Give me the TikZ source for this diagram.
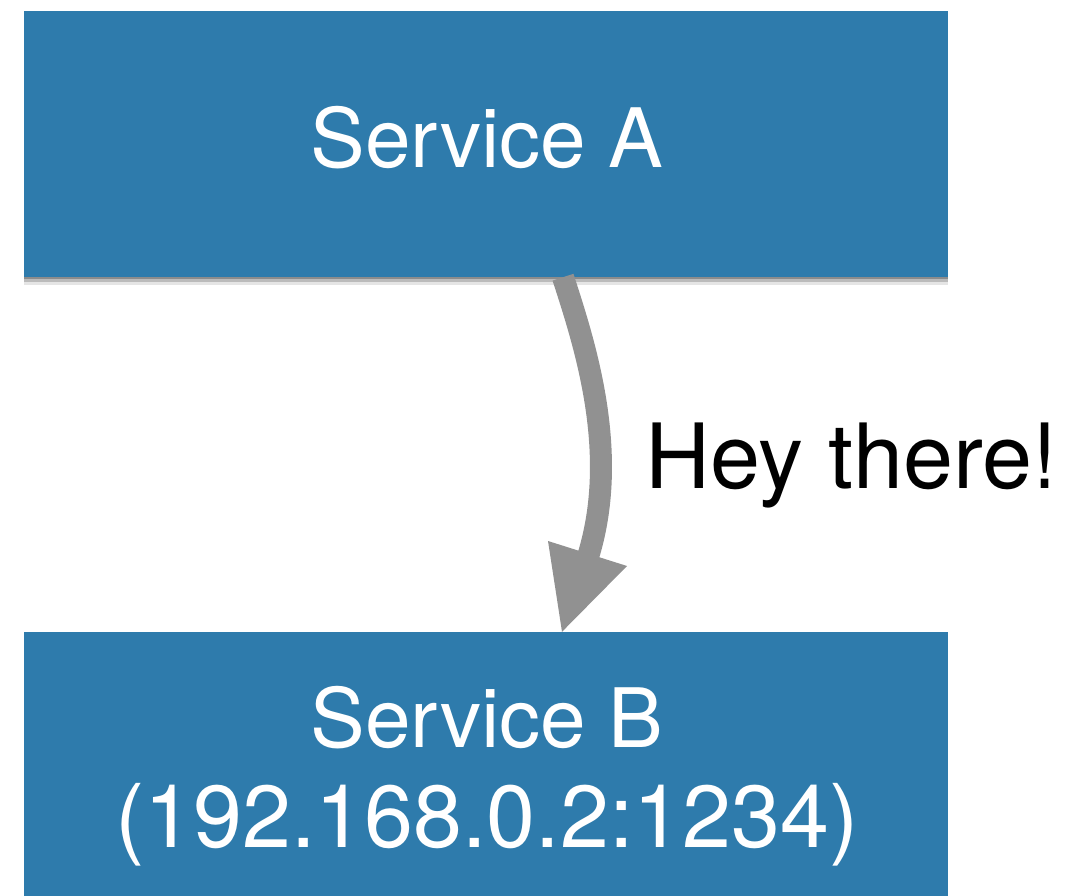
\documentclass[tikz,border=0pt]{standalone}
\usepackage{fontspec}
\setmainfont{TeX Gyre Heros}
\usetikzlibrary{shadows}
\definecolor{boxblue}{RGB}{46,123,172}
\definecolor{arrowgray}{RGB}{145,145,145}
\tikzset{
  service/.style={rectangle, fill=boxblue, draw=none, inner sep=0pt,
    minimum width=924pt,
    general shadow={shadow xshift=0pt, shadow yshift=-8pt, opacity=0.10, fill=black},
    general shadow={shadow xshift=0pt, shadow yshift=-5pt, opacity=0.18, fill=black},
    general shadow={shadow xshift=0pt, shadow yshift=-2.5pt, opacity=0.25, fill=black}},
  boxtext/.style={anchor=base, text=white, inner sep=0pt},
  flow/.style={draw=arrowgray, line width=22pt, line cap=butt},
  flowhead/.style={fill=arrowgray, draw=none}
}
\begin{document}
\begin{tikzpicture}[x=1pt,y=-1pt]
\useasboundingbox (0,0) rectangle (1072,896);
\fill[white] (0,0) rectangle (1072,896);
% boxes
\node[service, minimum height=266pt] (A) at (486,144) {};
\node[service, minimum height=300pt] (B) at (486,782) {};
% texts
\node[boxtext, font=\fontsize{82}{82}\selectfont] (Atext) at (487,168) {Service A};
\node[boxtext, font=\fontsize{82}{82}\selectfont] (Btext1) at (487,747) {Service B};
\node[boxtext, font=\fontsize{88}{88}\selectfont] (Btext2) at (487,847) {(192.168.0.2:1234)};
% connector
\coordinate (s) at (A.south -| 563,0);
\coordinate (hb) at (587,560);
\coordinate (hl) at (548,541);
\coordinate (hr) at (627,566);
\coordinate (t) at (B.north -| 562,0);
\draw[flow] (s) .. controls (585,345) and (621,455) .. (hb);
\fill[flowhead] (hl) -- (hr) -- (t) -- cycle;
\node[anchor=base west, inner sep=0pt, font=\fontsize{90}{90}\selectfont] (msg) at (645,488) {Hey there!};
\end{tikzpicture}
\end{document}
